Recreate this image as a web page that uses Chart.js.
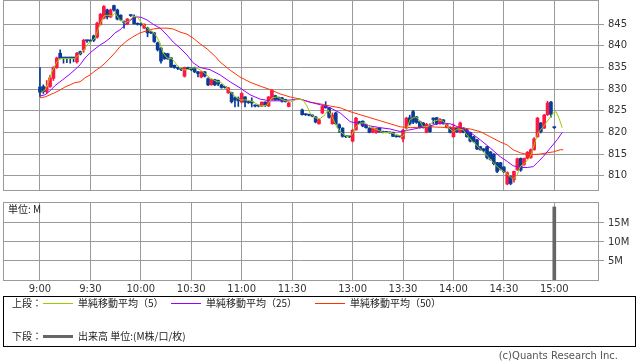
<!DOCTYPE html>
<html>
<head>
<meta charset="utf-8">
<script src="https://cdn.jsdelivr.net/npm/chart.js@4.4.1/dist/chart.umd.min.js"></script>
<style>
  body { margin: 0; background: #fff; width: 638px; height: 362px; position: relative; overflow: hidden;
         font-family: "Noto Sans CJK JP", "DejaVu Sans", sans-serif; color: #222; }
  canvas { position: absolute; left: 0; }
  #price { top: 0; }
  #vol { top: 190px; }
  .t { position: absolute; font-size: 10px; line-height: 14px; white-space: nowrap; }
  .ln { position: absolute; height: 1px; width: 30px; }
  #box { position: absolute; left: 3px; top: 296px; width: 631px; height: 49px; border: 1px solid #000; }
  #copy { position: absolute; right: 20px; top: 350px; font: 10px "DejaVu Sans", sans-serif; color: #555; }
</style>
</head>
<body>
<canvas id="price" width="638" height="191"></canvas>
<canvas id="vol" width="638" height="110"></canvas>
<div class="t" style="left:8px;top:202px">単位: M</div>

<div id="box"></div>
<div class="t" style="left:12px;top:296px">上段：</div>
<div class="ln" style="left:43px;top:303px;background:#99cc00"></div>
<div class="t" style="left:78px;top:296px">単純移動平均（5）</div>
<div class="ln" style="left:171px;top:303px;background:#9900ff"></div>
<div class="t" style="left:206px;top:296px">単純移動平均（25）</div>
<div class="ln" style="left:315px;top:303px;background:#ff3300"></div>
<div class="t" style="left:350px;top:296px">単純移動平均（50）</div>
<div class="t" style="left:12px;top:329px">下段：</div>
<div class="ln" style="left:43px;top:335px;height:3px;background:#666"></div>
<div class="t" style="left:78px;top:329px">出来高 単位:(M株/口/枚)</div>
<div id="copy">(c)Quants Research Inc.</div>

<script>
// 2-minute candles, morning session then afternoon session + closing print
const times = [
  '9:00','9:02','9:04','9:06','9:08','9:10','9:12','9:14','9:16','9:18',
  '9:20','9:22','9:24','9:26','9:28','9:30','9:32','9:34','9:36','9:38',
  '9:40','9:42','9:44','9:46','9:48','9:50','9:52','9:54','9:56','9:58',
  '10:00','10:02','10:04','10:06','10:08','10:10','10:12','10:14','10:16','10:18',
  '10:20','10:22','10:24','10:26','10:28','10:30','10:32','10:34','10:36','10:38',
  '10:40','10:42','10:44','10:46','10:48','10:50','10:52','10:54','10:56','10:58',
  '11:00','11:02','11:04','11:06','11:08','11:10','11:12','11:14','11:16','11:18',
  '11:20','11:22','11:24','11:26','11:28',
  '12:30','12:32','12:34','12:36','12:38','12:40','12:42','12:44','12:46','12:48',
  '12:50','12:52','12:54','12:56','12:58','13:00','13:02','13:04','13:06','13:08',
  '13:10','13:12','13:14','13:16','13:18','13:20','13:22','13:24','13:26','13:28',
  '13:30','13:32','13:34','13:36','13:38','13:40','13:42','13:44','13:46','13:48',
  '13:50','13:52','13:54','13:56','13:58','14:00','14:02','14:04','14:06','14:08',
  '14:10','14:12','14:14','14:16','14:18','14:20','14:22','14:24','14:26','14:28',
  '14:30','14:32','14:34','14:36','14:38','14:40','14:42','14:44','14:46','14:48',
  '14:50','14:52','14:54','14:56','14:58','15:00'
];

const open = [
  830.5,830.6,829.4,830.6,832.5,835.0,838.3,837.2,837.2,837.2,
  837.2,836.3,838.7,839.1,841.3,841.2,842.3,842.0,845.0,846.4,
  848.3,846.7,849.3,848.3,847.1,845.6,845.0,847.1,846.7,845.2,
  845.0,844.1,844.1,843.2,843.0,840.7,839.5,838.3,838.2,837.2,
  835.5,835.0,834.7,833.0,835.0,834.9,835.0,834.0,832.8,834.0,
  832.4,831.0,832.2,832.0,831.0,830.5,829.2,829.2,828.0,827.8,
  827.0,828.2,827.1,827.2,826.3,826.2,826.1,827.0,826.1,827.6,
  828.5,828.1,828.0,827.6,826.0,
  825.2,824.2,824.1,824.0,823.6,822.0,824.5,826.2,825.7,822.0,
  824.5,821.8,821.0,819.1,819.1,818.0,820.6,822.5,822.6,821.8,
  821.0,820.0,820.0,821.0,820.2,820.1,820.0,820.0,819.1,819.1,
  818.5,821.0,823.4,824.8,823.6,822.5,822.2,820.0,821.5,823.3,
  823.4,822.0,822.9,821.1,821.2,819.0,821.0,820.0,821.0,820.6,
  820.0,819.0,818.3,816.7,816.2,816.7,815.5,815.0,813.0,813.0,
  812.0,808.1,809.8,809.1,811.4,814.0,812.6,814.0,814.2,816.0,
  819.0,822.2,821.0,824.1,827.0,821.2
];
const high = [
  835.0,831.0,832.0,833.2,835.2,837.4,839.1,837.2,837.2,837.2,
  837.3,838.5,838.8,841.5,841.3,841.4,842.5,845.5,847.5,849.3,
  848.5,848.5,849.4,848.5,847.2,845.8,846.3,847.2,847.2,845.3,
  845.1,845.1,844.3,843.3,843.1,840.9,839.6,838.4,838.3,837.3,
  835.6,835.1,834.8,835.1,835.1,835.0,835.1,834.1,834.1,834.1,
  832.6,832.3,832.3,832.1,831.1,830.6,830.4,829.3,828.2,828.2,
  829.2,828.3,827.2,828.0,826.4,826.3,827.1,827.1,828.3,829.9,
  828.6,828.2,828.1,827.7,827.1,
  825.4,824.3,824.2,824.1,823.7,823.0,826.1,827.1,825.8,824.5,
  824.7,822.0,821.1,819.3,819.2,820.7,823.5,822.6,822.7,821.9,
  821.1,821.1,821.0,821.1,820.3,820.2,820.1,820.1,819.2,819.2,
  820.7,823.5,824.0,825.1,823.7,822.6,822.3,822.1,822.0,823.4,
  823.5,823.2,823.0,821.9,821.3,822.0,821.1,822.4,821.1,820.7,
  820.1,819.1,818.4,816.8,816.3,816.8,815.6,815.1,813.1,813.1,
  812.1,810.9,810.0,811.1,814.1,814.1,814.1,815.6,816.2,818.8,
  823.5,822.3,824.2,827.2,827.2,821.3
];
const low = [
  828.3,829.0,829.0,830.4,832.0,834.8,837.0,836.0,836.1,836.0,
  836.3,836.0,837.9,838.5,840.8,840.9,841.0,841.8,844.8,846.2,
  846.2,846.5,848.0,846.0,845.8,844.1,844.9,846.8,845.0,844.8,
  844.6,844.0,842.1,842.8,840.8,838.8,836.0,836.9,836.9,835.0,
  834.8,834.5,834.3,832.8,834.5,834.3,833.8,832.8,832.6,832.8,
  830.8,830.9,830.8,830.8,830.2,830.2,829.0,826.8,825.9,826.0,
  826.8,825.9,826.7,825.9,825.9,825.9,826.0,826.0,826.0,827.5,
  827.4,827.4,827.0,827.0,825.9,
  824.0,823.9,823.8,823.6,822.2,821.9,824.3,825.6,823.3,821.9,
  821.8,820.0,818.9,818.8,818.8,817.8,820.5,822.0,821.3,821.0,
  819.9,819.9,819.8,820.0,819.9,819.9,819.8,819.0,818.9,818.9,
  817.8,820.8,821.7,822.0,822.1,821.0,821.0,819.9,820.0,822.0,
  821.8,821.9,821.9,821.0,819.9,818.9,820.0,819.9,819.9,818.9,
  817.8,817.7,816.0,815.9,815.5,813.9,813.6,812.5,810.7,811.3,
  810.7,807.9,807.9,808.5,811.2,811.0,812.4,813.9,814.0,815.9,
  818.9,819.9,820.9,823.9,823.5,820.9
];
const close = [
  829.3,829.4,830.5,832.6,835.0,837.2,837.2,837.2,837.2,837.2,
  837.2,838.3,838.1,841.3,841.2,841.1,841.3,845.2,847.3,849.1,
  846.7,848.3,848.3,846.2,846.0,845.4,846.2,847.0,845.1,845.0,
  844.9,845.0,843.0,843.0,841.0,839.1,836.5,837.0,837.0,835.2,
  835.0,834.8,834.5,835.0,834.7,834.5,834.0,833.6,834.0,833.0,
  831.0,832.2,831.0,831.2,830.4,830.4,830.3,827.1,827.5,827.3,
  829.0,827.0,826.9,826.8,826.1,826.1,827.0,826.2,828.2,829.7,
  827.6,827.6,827.2,827.1,826.8,
  824.1,824.1,824.0,823.8,822.4,822.9,826.0,825.7,823.5,824.0,
  822.0,821.1,819.1,819.0,819.0,820.5,823.3,822.2,821.5,821.1,
  820.0,821.0,820.9,820.1,820.0,820.0,819.9,819.1,819.0,819.0,
  820.5,823.3,822.0,822.4,822.3,821.2,821.1,821.9,820.2,823.0,
  822.0,823.0,822.0,821.8,820.0,821.0,820.2,822.2,820.0,819.0,
  818.0,817.9,816.2,816.0,815.8,814.2,813.8,812.8,811.0,811.5,
  810.9,810.7,808.2,811.0,813.9,811.3,814.0,815.4,816.0,818.5,
  823.3,820.2,824.0,826.8,824.2,821.1
];

// volume (M) - only the closing print is visible
const volTimes = ['15:00'];
const volume = [19.2];

// moving averages as [session minute, price]
const ma5 = [
  [0.6,829.2],[3,829.8],[5.4,832],[7.1,834],[10.1,836.3],[11.9,837.1],[14.9,837.1],[20.8,837.1],
  [23.8,838.2],[26.2,839.1],[28.6,840.5],[31,841.2],[32.7,841.8],[34.5,843.7],[36.3,845.5],[38.1,846.9],
  [40.5,847.1],[42.9,846.9],[44.6,847.6],[47.6,846],[50.6,845.4],[52.4,845.6],[55.4,846.7],[57.7,846.9],
  [59.5,845.8],[63.7,844.1],[67.3,843.2],[69.6,842],[71.4,840.7],[73.2,838.4],[75.6,837.2],[78.6,837],
  [81.5,835.6],[84.5,834.5],[87.5,834.5],[90.5,834.9],[93.5,834.9],[97,834],[101.2,832.6],[105.4,831.7],
  [107.1,831.7],[111.3,830.3],[114.9,828.7],[119,827.5],[123.2,827.5],[126.8,827.1],[131,826.1],[135.1,826.3],
  [138.1,828],[141.1,828.2],[144.6,827.5],[148.8,827],[153,827.7],[156.5,827.5],[158.9,826.1],[160.7,824.5],
  [163.7,823.4],[166.7,823.2],[169.6,824.1],[171.4,825.2],[173.8,823.6],[176.8,821.1],[178.6,820.2],[182.7,819],
  [185.7,819.5],[187.5,821.1],[190.5,822.2],[193.5,822.2],[196.4,821.3],[200.6,820.6],[204.2,820],[208.3,820],
  [212.5,819.5],[215.5,819],[217.3,819.8],[220.2,823],[223.2,823.6],[225,823.2],[228,821.3],[231,821.4],
  [233.9,822.5],[236.9,822.9],[239.9,822.6],[242.9,821.1],[245.8,820.2],[248.8,820.8],[251.8,820.6],[254.8,819],
  [257.7,817.8],[260.7,816.7],[263.7,815.5],[266.7,814.4],[269.6,813],[272.6,811.9],[275.6,811],[278.6,810.2],
  [281.5,809.1],[283.9,810.2],[285.7,812.1],[288.7,813],[291.7,814.4],[294.6,817.8],[296.4,820],[299.4,821.3],
  [302.4,822.9],[305.4,824.5],[307.1,824.8],[308.9,823.2],[310.7,821.1]
];
const ma25 = [
  [0,828.4],[3,828.7],[6,829.6],[8.9,830.8],[11.9,831.7],[14.9,832.6],[17.9,833.5],[20.8,834.5],
  [23.8,835.6],[26.8,837.2],[29.8,838.4],[32.7,839.3],[35.7,840.2],[38.7,840.9],[41.7,841.8],[44.6,843],
  [47.6,843.7],[51.8,845.3],[55.4,846.4],[57.7,846.7],[60.1,846.6],[63.7,846],[67.3,845],[71.4,844.1],
  [75.6,842.5],[79.2,840.9],[83.3,839.5],[87.5,837.9],[91.1,836.1],[95.2,835],[101.2,834.5],[107.1,833.3],
  [113.1,831.7],[119,830.3],[125,828.7],[131,827.7],[136.9,827.3],[142.9,827.3],[148.8,827.5],[154.8,827.7],
  [160.7,827],[166.7,826.4],[172.6,825.7],[178.6,824.5],[184.5,822.5],[190.5,822],[196.4,821.5],[202.4,821.1],
  [208.3,820.8],[214.3,820.2],[220.2,820.6],[226.2,821.1],[232.1,821.5],[238.1,822.2],[244,822],[250,821.1],
  [256,820],[261.9,818.3],[267.9,816.4],[273.8,814.4],[278,813.3],[281.5,812.3],[285.7,811.9],[289.9,811.9],
  [293.5,812.1],[295.8,813],[299.4,814.4],[303.6,816.4],[307.7,818.3],[310.7,820]
];
const ma50 = [
  [0,828],[3,828.2],[6,828.7],[8.9,829.2],[11.9,829.8],[14.9,830.5],[17.9,831],[20.8,831.5],
  [23.8,831.7],[26.8,832.6],[29.8,833.3],[32.7,834.2],[35.7,835],[38.7,836],[41.7,837.2],[44.6,838.4],
  [47.6,839.8],[51.8,841.2],[55.4,842.1],[59.5,843],[63.7,843.5],[67.3,843.9],[71.4,844.1],[75.6,844.1],
  [79.2,843.9],[83.3,843.2],[87.5,842.7],[91.1,841.8],[95.2,840.5],[99.4,839.3],[104.2,837.6],[107.1,836.3],
  [113.1,834.4],[119,832.8],[125,831.6],[131,830.7],[136.9,829.9],[142.9,828.9],[148.8,828.2],[154.8,827.7],
  [160.7,827],[166.7,826.6],[172.6,826.1],[178.6,825.7],[184.5,824.8],[190.5,824.1],[196.4,823.4],[202.4,822.7],
  [208.3,822],[214.3,821.3],[220.2,821.1],[226.2,821.2],[232.1,821.3],[238.1,821.2],[244,821.1],[250,821.1],
  [256,820.8],[261.9,820.2],[267.9,819],[273.8,817.8],[278,817.1],[281.5,816],[285.7,815.3],[289.9,814.9],
  [293.5,814.9],[297.6,815],[301.8,815.3],[305.4,815.5],[309.5,816],[311.3,816]
];

const tickTimes = ['9:00','9:30','10:00','10:30','11:00','11:30','13:00','13:30','14:00','14:30','15:00'];
const priceTicks = [810, 815, 820, 825, 830, 835, 840, 845];
const volTicks = [5, 10, 15];

const RED = '#ff1744', BLUE = '#0a3c96', GRID = '#9a9a9a';

// minutes since 9:00, with the lunch break squeezed to 6 minutes
function slot(t) {
  const [h, m] = t.split(':').map(Number);
  const min = h * 60 + m - 540;
  return min > 150 ? min - 54 : min;
}

Chart.defaults.font.family = 'DejaVu Sans';
Chart.defaults.font.size = 10;
Chart.defaults.color = '#333';

const frame = {
  id: 'frame',
  beforeDatasetsDraw(c) {
    const { ctx, chartArea: a } = c;
    ctx.save();
    ctx.strokeStyle = GRID;
    ctx.lineWidth = 1;
    ctx.strokeRect(a.left + 0.5, a.top + 0.5, a.right - a.left, a.bottom - a.top);
    ctx.restore();
  }
};

function xScale(showLabels) {
  return {
    type: 'linear', min: -22, max: 332, offset: false,
    afterBuildTicks: s => { s.ticks = tickTimes.map(t => ({ value: slot(t) })); },
    ticks: {
      display: showLabels, autoSkip: false, maxRotation: 0, padding: 3,
      callback: v => tickTimes.find(t => slot(t) === v)
    },
    grid: { color: GRID, drawTicks: false, offset: false },
    border: { display: false },
    afterFit: s => { s.height = showLabels ? 20 : 0; s.paddingLeft = 0; s.paddingRight = 0; }
  };
}

const xs = times.map(slot);
const colors = times.map((t, i) => close[i] > open[i] ? RED : BLUE);
const line = (pts, color) => ({
  type: 'line', data: pts.map(p => ({ x: p[0], y: p[1] })),
  borderColor: color, borderWidth: 1, pointRadius: 0, tension: 0, order: 0
});

new Chart(document.getElementById('price'), {
  type: 'bar',
  data: {
    datasets: [
      line(ma5, '#99cc00'),
      line(ma25, '#9900ff'),
      line(ma50, '#ff3300'),
      {
        data: xs.map((x, i) => ({ x, y: [open[i], close[i]] })),
        backgroundColor: colors, barThickness: 3, minBarLength: 1, grouped: false, order: 1
      },
      {
        data: xs.map((x, i) => ({ x, y: [low[i], high[i]] })),
        backgroundColor: colors, barThickness: 1, grouped: false, order: 2
      }
    ]
  },
  options: {
    responsive: false, animation: false, devicePixelRatio: 1,
    layout: { padding: { left: 3, top: 0, bottom: 1, right: 0 } },
    plugins: { legend: { display: false }, tooltip: { enabled: false } },
    scales: {
      x: xScale(false),
      y: {
        position: 'right', min: 806.7, max: 850.6,
        afterBuildTicks: s => { s.ticks = priceTicks.map(v => ({ value: v })); },
        ticks: { padding: 4 },
        grid: { color: GRID, tickLength: 6 },
        border: { display: false },
        afterFit: s => { s.width = 40; s.paddingTop = 0; s.paddingBottom = 0; }
      }
    }
  },
  plugins: [frame]
});

new Chart(document.getElementById('vol'), {
  type: 'bar',
  data: {
    datasets: [{
      data: volTimes.map((t, i) => ({ x: slot(t), y: volume[i] })),
      backgroundColor: '#666', barThickness: 3, grouped: false
    }]
  },
  options: {
    responsive: false, animation: false, devicePixelRatio: 1,
    layout: { padding: { left: 3, top: 12, bottom: 0, right: 0 } },
    plugins: { legend: { display: false }, tooltip: { enabled: false } },
    scales: {
      x: xScale(true),
      y: {
        position: 'right', min: 0, max: 20.5,
        afterBuildTicks: s => { s.ticks = volTicks.map(v => ({ value: v })); },
        ticks: { padding: 4, callback: v => v + 'M' },
        grid: { color: GRID, tickLength: 6 },
        border: { display: false },
        afterFit: s => { s.width = 40; s.paddingTop = 0; s.paddingBottom = 0; }
      }
    }
  },
  plugins: [frame]
});
</script>
</body>
</html>
